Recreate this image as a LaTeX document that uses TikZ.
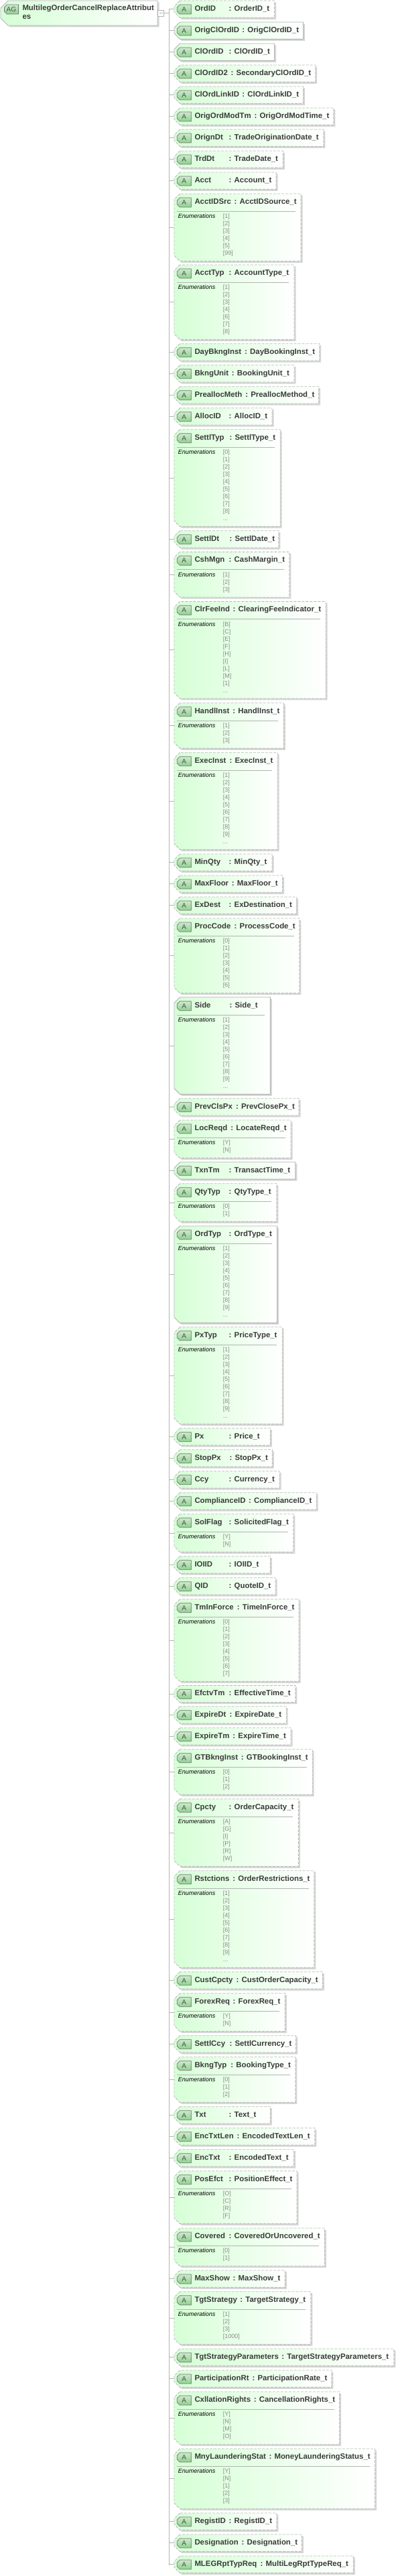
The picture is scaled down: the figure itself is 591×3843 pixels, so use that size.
\documentclass[tikz,border=0pt]{standalone}
\usepackage{fontspec}
\setmainfont{Liberation Sans}
\usetikzlibrary{calc,shadows}
\definecolor{xgreen}{HTML}{D6FFD6}
\definecolor{xtag}{HTML}{8FD08F}
\definecolor{xline}{HTML}{B4B4B4}
\definecolor{xdash}{HTML}{B9BDB9}
\definecolor{xtext}{HTML}{3A3A3A}
\definecolor{xval}{HTML}{8A8A8A}
\newcommand{\edots}{...}
% outline of a node with its two left corners cut off
\newcommand{\cutbox}[2]{($(#1.north west)+(#2,0)$) -- ($(#1.north west)+(0,#2)$) -- ($(#1.south west)+(0,-#2)$) -- ($(#1.south west)+(#2,0)$) -- (#1.south east) -- (#1.north east) -- cycle}

\begin{document}
\begin{tikzpicture}[
    x=1pt, y=-1pt,
    attrect/.style={rectangle, inner sep=0pt, outer sep=0pt, anchor=north west},
    attfill/.style={left color=xgreen, right color=white, line width=0.9pt,
        general shadow={shadow xshift=2.5pt, shadow yshift=-2.5pt, fill=black!16}},
    tagrect/.style={rectangle, inner sep=0pt, outer sep=0pt, anchor=north west, minimum width=21pt, minimum height=14pt,
        font=\fontsize{10}{12}\selectfont, text=black!70},
    tagfill/.style={draw=black!55, line width=0.7pt, top color=xtag!45, bottom color=xtag},
    title/.style={anchor=base west, inner sep=0pt, text=xtext, font=\fontsize{11.4}{13}\selectfont\bfseries},
    enumhead/.style={anchor=base west, inner sep=0pt, font=\fontsize{9}{11}\selectfont\itshape},
    enumval/.style={anchor=base west, inner sep=0pt, text=xval, font=\fontsize{9}{11}\selectfont},
    link/.style={draw=xline, line width=0.9pt},
    dsh/.style={draw=xdash, dash pattern=on 4pt off 2pt},
    sol/.style={draw=xline},
]
\useasboundingbox (0,0) rectangle (591,3843);

% Root group
\node[attrect, minimum width=234pt, minimum height=37pt] (root) at (1,1) {};
\draw[attfill, sol] \cutbox{root}{11};
\node[tagrect] at (6.4,7) (root-tag) {};
\draw[tagfill] \cutbox{root-tag}{4};
\node[tagrect] (root-tagtext) at (6.4,7) {AG};
\node[title, anchor=north west, align=left, font=\fontsize{11.4}{12.7}\selectfont\bfseries] (root-name) at (33.3,7.5) {MultilegOrderCancelReplaceAttribut\\es};
\node[draw=xline, fill=white, inner sep=0pt, minimum width=8.5pt, minimum height=9pt, line width=0.7pt] (root-minus) at (240,19.5) {};
\node[inner sep=0pt, minimum width=5pt, minimum height=0.7pt, fill=xline] (root-bar) at (root-minus) {};
\coordinate (spine) at (252,19.5);
\coordinate (spinetop) at (252,14.3);
\coordinate (spineend) at (252,3826.7);
\draw[link] (root-minus) -- (spine);
\draw[link] (spinetop) -- (spineend);

% Attributes: name/type/top/colon x/right x/border/count/values
\foreach \nm/\tp/\yt/\cx/\rx/\bs/\n/\vals in {
    OrdID/OrderID/1/344/409.5/dsh/0/{},
    OrigClOrdID/OrigClOrdID/33/363.7/452.5/sol/0/{},
    ClOrdID/ClOrdID/65/344/409.5/sol/0/{},
    ClOrdID2/SecondaryClOrdID/97/347/470.7/dsh/0/{},
    ClOrdLinkID/ClOrdLinkID/129/363.7/452.5/dsh/0/{},
    OrigOrdModTm/OrigOrdModTime/161/381.9/497.9/dsh/0/{},
    OrignDt/TradeOriginationDate/193/344/482.8/dsh/0/{},
    TrdDt/TradeDate/225/344/422.3/dsh/0/{},
    Acct/Account/257/344/412.1/dsh/0/{},
    AcctIDSrc/AcctIDSource/289/352/449.1/dsh/6/{[1],[2],[3],[4],[5],[99]},
    AcctTyp/AccountType/395/344/439/dsh/7/{[1],[2],[3],[4],[6],[7],[8]},
    DayBkngInst/DayBookingInst/512.7/367.5/476.7/dsh/0/{},
    BkngUnit/BookingUnit/544.7/348.2/439/dsh/0/{},
    PreallocMeth/PreallocMethod/576.7/368.6/475.6/dsh/0/{},
    AllocID/AllocID/608.7/344/406/dsh/0/{},
    SettlTyp/SettlType/640.7/344.8/418.2/dsh/10/{[0],[1],[2],[3],[4],[5],[6],[7],[8],\edots},
    SettlDt/SettlDate/791.7/344.8/415.9/dsh/0/{},
    CshMgn/CashMargin/823.3/344/431.8/dsh/3/{[1],[2],[3]},
    ClrFeeInd/ClearingFeeIndicator/897.3/350/486.2/dsh/10/{[B],[C],[E],[F],[H],[I],[L],[M],[1],\edots},
    HandlInst/HandlInst/1048.7/349.7/423.4/dsh/3/{[1],[2],[3]},
    ExecInst/ExecInst/1122.7/344.8/414/dsh/10/{[1],[2],[3],[4],[5],[6],[7],[8],[9],\edots},
    MinQty/MinQty/1274/344/406/dsh/0/{},
    MaxFloor/MaxFloor/1306/348.2/421.6/dsh/0/{},
    ExDest/ExDestination/1338/344/442.7/dsh/0/{},
    ProcCode/ProcessCode/1370/352/446.9/dsh/7/{[0],[1],[2],[3],[4],[5],[6]},
    Side/Side/1487.7/344.8/403.4/sol/10/{[1],[2],[3],[4],[5],[6],[7],[8],[9],\edots},
    PrevClsPx/PrevClosePx/1638.7/354.3/446.1/dsh/0/{},
    LocReqd/LocateReqd/1671/346.7/434/dsh/2/{[Y],[N]},
    TxnTm/TransactTime/1733.7/344/440.8/sol/0/{},
    QtyTyp/QtyType/1765.7/344/412.9/dsh/2/{[0],[1]},
    OrdTyp/OrdType/1829/344/413.6/sol/10/{[1],[2],[3],[4],[5],[6],[7],[8],[9],\edots},
    PxTyp/PriceType/1979.7/344/421.2/dsh/10/{[1],[2],[3],[4],[5],[6],[7],[8],[9],\edots},
    Px/Price/2130.7/344/403.4/dsh/0/{},
    StopPx/StopPx/2162.7/344.8/406.4/dsh/0/{},
    Ccy/Currency/2194.7/344/417/dsh/0/{},
    ComplianceID/ComplianceID/2226.7/373.5/472.2/dsh/0/{},
    SolFlag/SolicitedFlag/2258.7/344/437.8/dsh/2/{[Y],[N]},
    IOIID/IOIID/2321.7/344/403.4/dsh/0/{},
    QID/QuoteID/2353.7/344/411/dsh/0/{},
    TmInForce/TimeInForce/2385.7/356.1/446.1/dsh/8/{[0],[1],[2],[3],[4],[5],[6],[7]},
    EfctvTm/EffectiveTime/2514.3/344/440.8/dsh/0/{},
    ExpireDt/ExpireDate/2545.7/344.8/427.2/dsh/0/{},
    ExpireTm/ExpireTime/2577.7/349.7/434/dsh/0/{},
    GTBkngInst/GTBookingInst/2609.7/362.2/466.2/dsh/3/{[0],[1],[2]},
    Cpcty/OrderCapacity/2683.7/344/445.4/dsh/6/{[A],[G],[I],[P],[R],[W]},
    Rstctions/OrderRestrictions/2790.7/349.7/468.8/dsh/10/{[1],[2],[3],[4],[5],[6],[7],[8],[9],\edots},
    CustCpcty/CustOrderCapacity/2941.7/355/481.3/dsh/0/{},
    ForexReq/ForexReq/2973.7/350/425.3/dsh/2/{[Y],[N]},
    SettlCcy/SettlCurrency/3036.7/344.8/441.6/dsh/0/{},
    BkngTyp/BookingType/3068.7/346.7/440.8/dsh/3/{[0],[1],[2]},
    Txt/Text/3142.7/344/403.4/dsh/0/{},
    EncTxtLen/EncodedTextLen/3174.7/355.8/469.9/dsh/0/{},
    EncTxt/EncodedText/3206.7/344/438.6/dsh/0/{},
    PosEfct/PositionEffect/3238.7/344/443.1/dsh/4/{[O],[C],[R],[F]},
    Covered/CoveredOrUncovered/3324/344/484.3/dsh/2/{[0],[1]},
    MaxShow/MaxShow/3387/350/425.3/dsh/0/{},
    TgtStrategy/TargetStrategy/3418.7/360.7/463.9/dsh/4/{[1],[2],[3],[1000]},
    TgtStrategyParameters/TargetStrategyParameters/3504/422.7/587.9/dsh/0/{},
    ParticipationRt/ParticipationRate/3536/378.8/494.9/dsh/0/{},
    CxllationRights/CancellationRights/3568/381.1/506.6/dsh/4/{[Y],[N],[M],[O]},
    MnyLaunderingStat/MoneyLaunderingStatus/3653/403.8/559.5/dsh/5/{[Y],[N],[1],[2],[3]},
    RegistID/RegistID/3749/344/412.9/dsh/0/{},
    Designation/Designation/3781/363/450.3/dsh/0/{},
    MLEGRptTypReq/MultiLegRptTypeReq/3813/390.9/527.4/dsh/0/{}%
} {
    \pgfmathsetmacro{\boxw}{\rx-260}
    \pgfmathsetmacro{\boxh}{\n>0 ? 34.67+11*\n : 25.33}
    \node[attrect, minimum width=\boxw pt, minimum height=\boxh pt] (\nm) at (260,\yt) {};
    \draw[attfill, \bs] \cutbox{\nm}{8.5};
    \node[tagrect] (\nm-tag) at (264.3,\yt+6) {};
    \draw[tagfill] \cutbox{\nm-tag}{4};
    \node[tagrect] (\nm-tagtext) at (264.3,\yt+6) {A};
    \node[title] (\nm-name) at (290.3,\yt+15.3) {\nm};
    \node[title] (\nm-type) at (\cx-2.5,\yt+15.3) {: \tp\_t};
    \draw[link] (spine |- \nm.west) -- (\nm.west);
    \ifnum\n>0
        \draw[xline, line width=0.9pt] (264.3,\yt+26.3) -- (\rx-8,\yt+26.3);
        \node[enumhead] (\nm-enum) at (265.7,\yt+36.9) {Enumerations};
        \foreach \v [count=\k] in \vals {
            \node[enumval] (\nm-v\k) at (332.7,\yt+25.8+11*\k) {\v};
        }
    \fi
}
\end{tikzpicture}
\end{document}
